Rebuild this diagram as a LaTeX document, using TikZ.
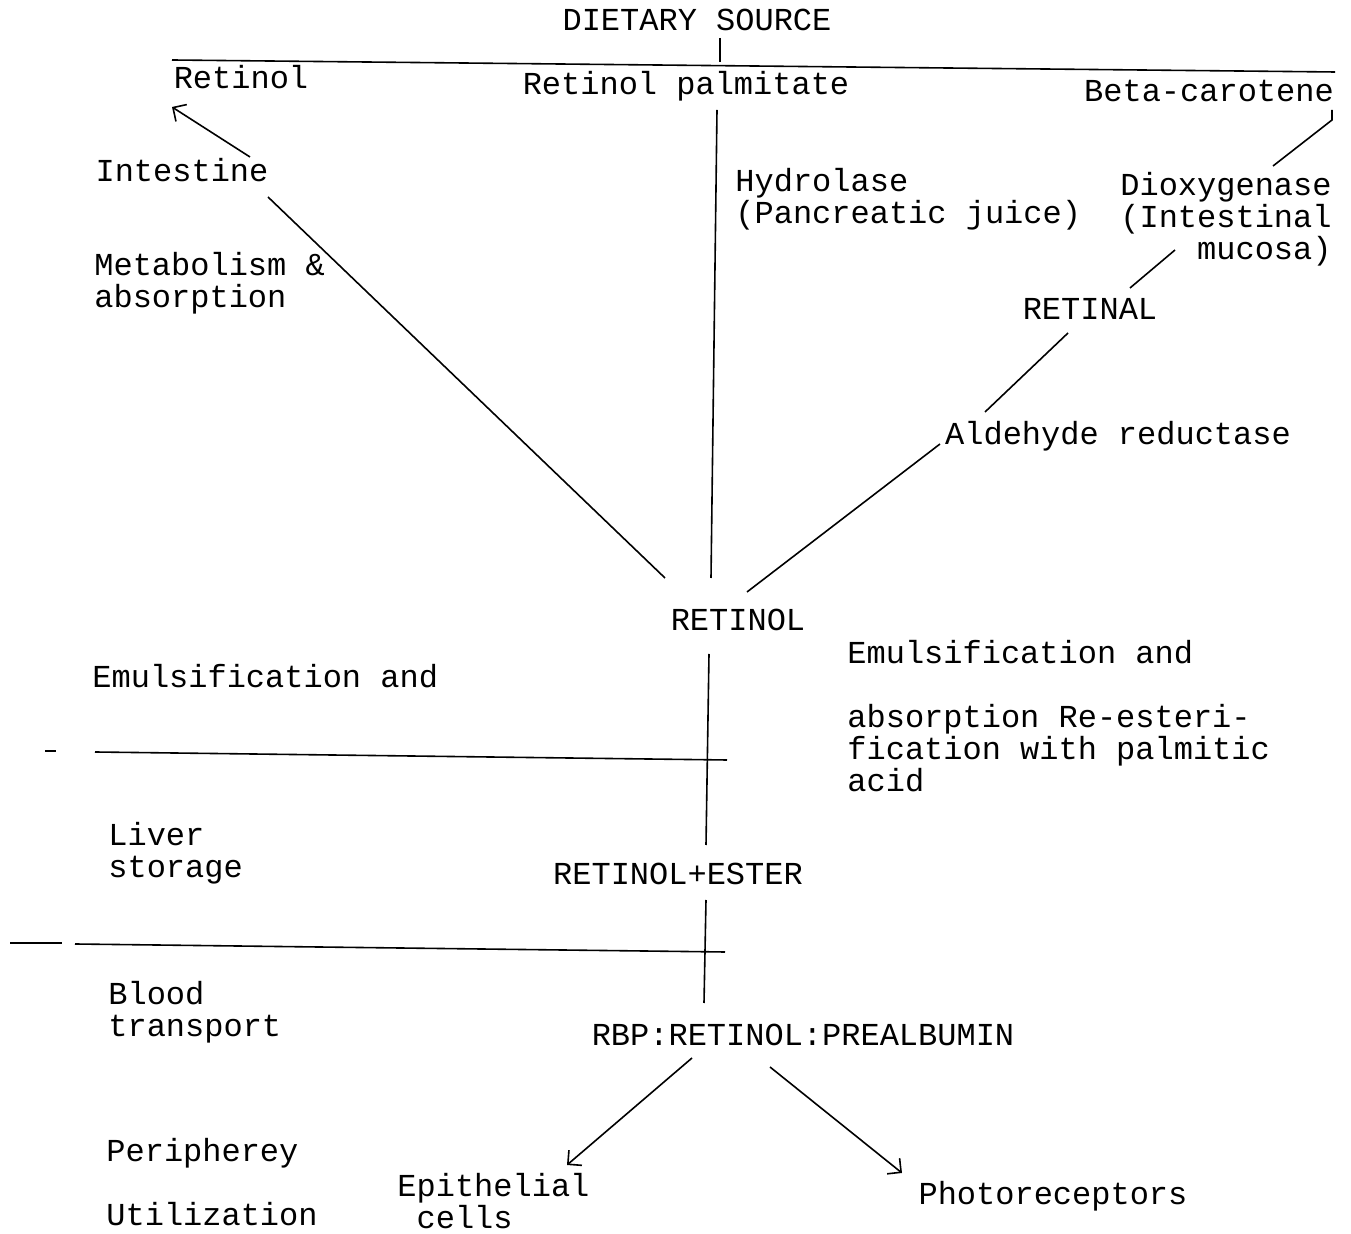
\documentclass[tikz,border=0pt]{standalone}
\usepackage{fontspec}
\setmainfont{Liberation Mono}
\usetikzlibrary{arrows.meta}
\begin{document}
\begin{tikzpicture}[x=0.5pt,y=-0.5pt,
  lbl/.style={inner sep=0pt, font=\fontsize{16}{16}\selectfont, anchor=base},
  blk/.style={lbl, align=left, anchor=base west},
  ln/.style={line width=0.8pt},
  arr/.style={ln, -{Straight Barb[length=5pt,width=10pt]}}]
\fill[white] (0,0) rectangle (1351,1234);
\useasboundingbox (0,0) rectangle (1351,1234);

% nodes (multi-line blocks are placed at the baseline of their last line)
\node[lbl] (src) at (697,31) {DIETARY SOURCE};
\node[lbl] (ret) at (241,89) {Retinol};
\node[lbl] (palm) at (686,95) {Retinol palmitate};
\node[lbl] (beta) at (1209,102) {Beta-carotene};
\node[lbl] (intes) at (182,182) {Intestine};
\node[blk] (meta) at (94,308) {Metabolism \&\\absorption};
\node[blk] (hydro) at (735,224) {Hydrolase\\(Pancreatic juice)};
\node[lbl, align=right, anchor=base east] (diox) at (1332,260) {Dioxygenase\\(Intestinal\\mucosa)};
\node[lbl] (retinal) at (1090,320) {RETINAL};
\node[lbl] (ald) at (1118,445) {Aldehyde reductase};
\node[lbl] (retinol) at (738,631) {RETINOL};
\node[blk] (emL) at (92,688) {Emulsification and};
\node[blk] (emR) at (847,792) {Emulsification and\\[16pt]absorption Re-esteri-\\fication with palmitic\\acid};
\node[blk] (liver) at (108,878) {Liver\\storage};
\node[lbl] (ester) at (678,885) {RETINOL+ESTER};
\node[blk] (blood) at (108,1037) {Blood\\transport};
\node[lbl] (rbp) at (803,1046) {RBP:RETINOL:PREALBUMIN};
\node[blk] (periph) at (106,1162) {Peripherey};
\node[blk] (util) at (106,1226) {Utilization};
\node[blk] (epi) at (397,1229) {Epithelial\\\hspace*{9.6pt}cells};
\node[lbl] (photo) at (1053,1205) {Photoreceptors};

% top bar
\coordinate (barL) at (172,60);
\coordinate (barR) at (1335,72);
\coordinate (barT) at (720,62);
\draw[ln] (barL) -- (barR);
\draw[ln] ([shift={(23,7)}]src.base) -- (barT);

% connectors
\draw[arr] ([shift={(68,-25)}]intes.base) -- ([shift={(-69,18)}]ret.base);
\draw[ln] ([shift={(86,15)}]intes.base) -- ([shift={(-73,-53)}]retinol.base);
\draw[ln] ([shift={(31,15)}]palm.base) -- ([shift={(-27,-53)}]retinol.base);
\draw[ln] ([shift={(123,8)}]beta.base) -- ([shift={(123,18)}]beta.base)
          -- ([shift={(-59,-94)}]diox.base east);
\draw[ln] ([shift={(-157,-10)}]diox.base east) -- ([shift={(40,-32)}]retinal.base);
\draw[ln] ([shift={(-22,13)}]retinal.base) -- ([shift={(-133,-33)}]ald.base);
\draw[ln] ([shift={(-178,-1)}]ald.base) -- ([shift={(9,-39)}]retinol.base);
\draw[ln] ([shift={(-29,23)}]retinol.base) -- ([shift={(28,-40)}]ester.base);
\draw[ln] ([shift={(28,15)}]ester.base) -- ([shift={(-99,-43)}]rbp.base);
\draw[arr] ([shift={(-111,12)}]rbp.base) -- ([shift={(170,-64)}]epi.base west);
\draw[arr] ([shift={(-33,21)}]rbp.base) -- ([shift={(-151,-32)}]photo.base);

% separators
\coordinate (s1a) at (45,751);
\coordinate (s1b) at (56,751);
\coordinate (s1c) at (95,752);
\coordinate (s1d) at (727,760);
\draw[ln] (s1a) -- (s1b);
\draw[ln] (s1c) -- (s1d);
\coordinate (s2a) at (10,943);
\coordinate (s2b) at (62,943);
\coordinate (s2c) at (75,944);
\coordinate (s2d) at (725,952);
\draw[ln] (s2a) -- (s2b);
\draw[ln] (s2c) -- (s2d);
\end{tikzpicture}
\end{document}
